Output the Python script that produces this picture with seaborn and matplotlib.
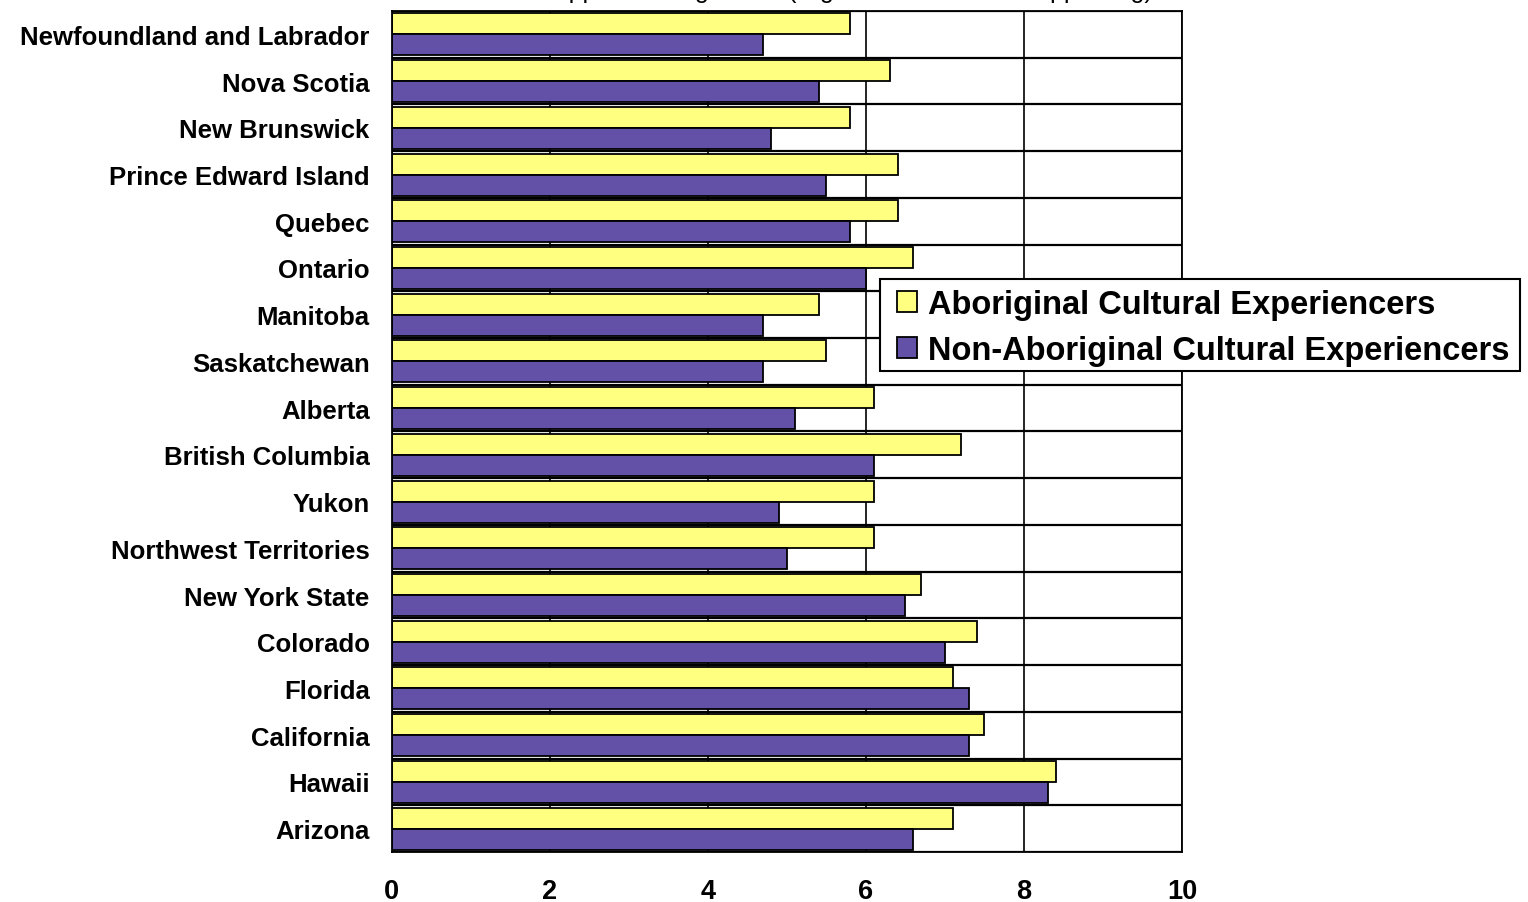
import numpy as np
import pandas as pd
import matplotlib
matplotlib.use("Agg")
import matplotlib.pyplot as plt
import seaborn as sns
from matplotlib.patches import Rectangle

# ── Data ────────────────────────────────────────────────────────────────────
regions = [
    "Newfoundland and Labrador", "Nova Scotia", "New Brunswick",
    "Prince Edward Island", "Quebec", "Ontario", "Manitoba", "Saskatchewan",
    "Alberta", "British Columbia", "Yukon", "Northwest Territories",
    "New York State", "Colorado", "Florida", "California", "Hawaii", "Arizona",
]
aboriginal = [5.8, 6.3, 5.8, 6.4, 6.4, 6.6, 5.4, 5.5, 6.1, 7.2,
              6.1, 6.1, 6.7, 7.4, 7.1, 7.5, 8.4, 7.1]
non_aboriginal = [4.7, 5.4, 4.8, 5.5, 5.8, 6.0, 4.7, 4.7, 5.1, 6.1,
                  4.9, 5.0, 6.5, 7.0, 7.3, 7.3, 8.3, 6.6]
series_names = ["Aboriginal Cultural Experiencers",
                "Non-Aboriginal Cultural Experiencers"]
x_ticks = [0, 2, 4, 6, 8, 10]
title = "Mean Appeal Rating Score (Higher Score = More Appealing)"

YELLOW = "#FFFF80"
PURPLE = "#6351A8"
W, H = 1528, 903

df = pd.DataFrame({
    "region": regions * 2,
    "score": aboriginal + non_aboriginal,
    "group": [series_names[0]] * len(regions) + [series_names[1]] * len(regions),
})

sns.set_style("white")
plt.rcParams["font.family"] = ["Liberation Sans", "DejaVu Sans"]
plt.rcParams["text.color"] = "black"
plt.rcParams["xtick.color"] = "black"
plt.rcParams["ytick.color"] = "black"

fig = plt.figure(figsize=(W / 100, H / 100), dpi=100)
ax = fig.add_axes([0.2565, 0.0554, 0.5170, 0.9313])

sns.barplot(
    data=df, y="region", x="score", hue="group", orient="h",
    palette=[YELLOW, PURPLE], saturation=1, edgecolor="black",
    linewidth=1.3, width=0.9, ax=ax, legend=True,
)

n = len(regions)
ax.set_xlim(0, 10)
ax.set_ylim(n - 0.5, -0.5)
ax.set_xlabel("")
ax.set_ylabel("")

# x axis
ax.set_xticks(x_ticks)
ax.set_xticklabels([str(t) for t in x_ticks], fontsize=19.5, fontweight="bold")
ax.tick_params(axis="x", direction="out", length=6, width=1.3, pad=12.5)
ax.xaxis.grid(True, color="black", linewidth=1.2)

# y axis: labels in the middle, ticks/grid on the band boundaries
ax.set_yticks(np.arange(n))
ax.set_yticklabels(regions, fontsize=18.5, fontweight="bold")
ax.tick_params(axis="y", which="major", length=0, pad=16)
ax.set_yticks(np.arange(n + 1) - 0.5, minor=True)
ax.tick_params(axis="y", which="minor", direction="out", length=6, width=1.3)
ax.yaxis.grid(True, which="minor", color="black", linewidth=1.6)
ax.yaxis.grid(False, which="major")
ax.set_axisbelow(True)

for sp in ax.spines.values():
    sp.set_visible(True)
    sp.set_color("black")
    sp.set_linewidth(1.3)

# legend: white box drawn by hand, legend entries placed inside it
handles, labels = ax.get_legend_handles_labels()
ax.legend_.remove()
box = Rectangle((880 / W, 1 - 372 / H), 640 / W, 92 / H,
                transform=fig.transFigure, facecolor="white",
                edgecolor="black", linewidth=1.5, zorder=4)
fig.add_artist(box)
leg = fig.legend(
    handles, labels, loc="upper left",
    bbox_to_anchor=(897 / W, 1 - 290 / H),
    prop={"weight": "bold", "size": 23.5},
    frameon=False,
    handlelength=0.6, handleheight=0.6, handletextpad=0.35,
    labelspacing=0.46, borderpad=0, borderaxespad=0,
)
leg.set_zorder(5)

# title sits above the canvas; only its descenders show
fig.text(818 / W, 1 + 2 / H, title, ha="center", va="baseline", fontsize=18)

fig.savefig("out.png", dpi=100)
